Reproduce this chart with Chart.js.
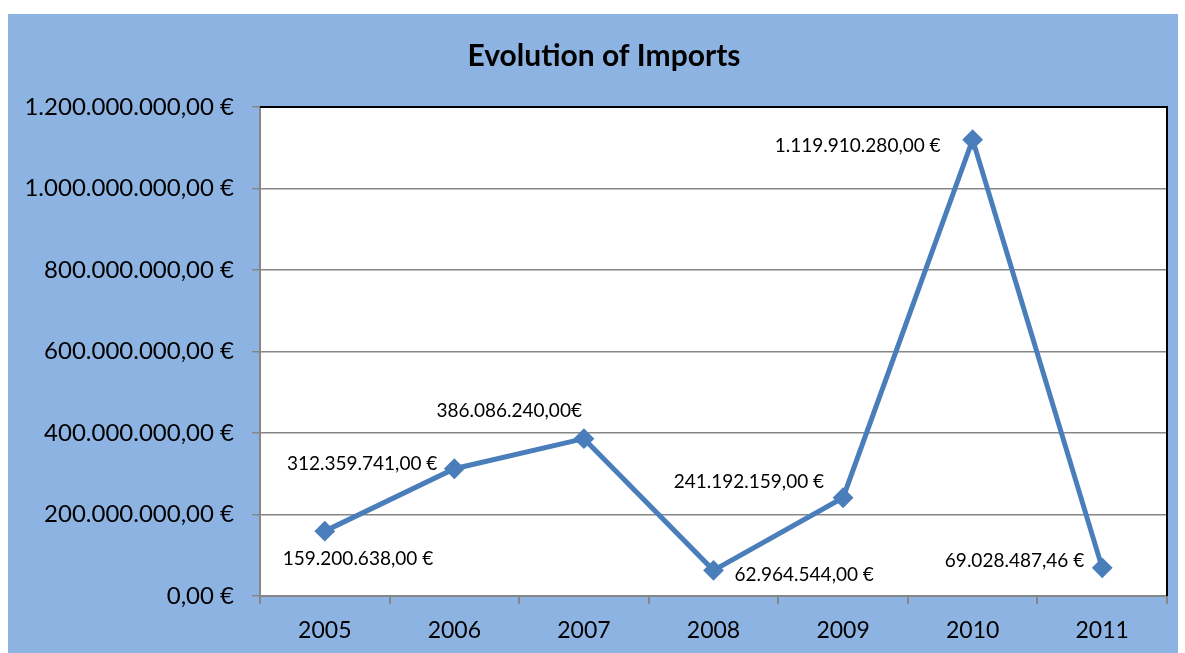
<!DOCTYPE html>
<html>
<head>
<meta charset="utf-8">
<script src="https://cdn.jsdelivr.net/npm/chart.js@4/dist/chart.umd.min.js"></script>
<style>
  body { margin: 0; background: #ffffff; }
  #wrap { position: absolute; left: 8px; top: 14px; width: 1170px; height: 639px; background: #8db3e2; }
</style>
</head>
<body>
<div id="wrap"><canvas id="importsChart"></canvas></div>
<script>
const years = ["2005", "2006", "2007", "2008", "2009", "2010", "2011"];
const imports = [159200638.00, 312359741.00, 386086240.00, 62964544.00, 241192159.00, 1119910280.00, 69028487.46];
const valueLabels = [
  "159.200.638,00 €",
  "312.359.741,00 €",
  "386.086.240,00€",
  "62.964.544,00 €",
  "241.192.159,00 €",
  "1.119.910.280,00 €",
  "69.028.487,46 €"
];
const yTickLabels = [
  "0,00 €",
  "200.000.000,00 €",
  "400.000.000,00 €",
  "600.000.000,00 €",
  "800.000.000,00 €",
  "1.000.000.000,00 €",
  "1.200.000.000,00 €"
];
const chartTitle = "Evolution of Imports";

// where each value label sits relative to its marker
const labelPlace = [
  { align: "left", dx: -42, dy: 28 },
  { align: "right", dx: -17, dy: -5 },
  { align: "right", dx: -2, dy: -28 },
  { align: "left", dx: 21, dy: 5 },
  { align: "right", dx: -19, dy: -16 },
  { align: "right", dx: -32, dy: 6 },
  { align: "right", dx: -18, dy: -7 }
];

const FONT = "Lato, 'Open Sans', sans-serif";
const AXIS_GREY = "#868686";

// white plot area, black top/right edge, title
const frame = {
  id: "frame",
  beforeDraw(c) {
    const a = c.chartArea;
    const ctx = c.ctx;
    ctx.save();
    ctx.fillStyle = "#ffffff";
    ctx.fillRect(a.left, a.top, a.right - a.left, a.bottom - a.top);
    ctx.font = "bold 30px " + FONT;
    ctx.fillStyle = "#000000";
    ctx.textAlign = "center";
    ctx.textBaseline = "middle";
    ctx.fillText(chartTitle, 596, 42);
    ctx.restore();
  },
  beforeDatasetsDraw(c) {
    const a = c.chartArea;
    const ctx = c.ctx;
    ctx.save();
    ctx.strokeStyle = "#000000";
    ctx.lineWidth = 2;
    ctx.beginPath();
    ctx.moveTo(a.left, a.top);
    ctx.lineTo(a.right, a.top);
    ctx.lineTo(a.right, a.bottom);
    ctx.stroke();
    ctx.restore();
  }
};

const valueText = {
  id: "valueText",
  afterDatasetsDraw(c) {
    const ctx = c.ctx;
    const pts = c.getDatasetMeta(0).data;
    ctx.save();
    ctx.font = "19px " + FONT;
    ctx.fillStyle = "#000000";
    ctx.textBaseline = "middle";
    pts.forEach((p, i) => {
      const pl = labelPlace[i];
      ctx.textAlign = pl.align;
      ctx.fillText(valueLabels[i], p.x + pl.dx, p.y + pl.dy);
    });
    ctx.restore();
  }
};

new Chart(document.getElementById("importsChart"), {
  type: "line",
  data: {
    labels: years,
    datasets: [
      {
        data: imports,
        borderColor: "#4a7ebb",
        backgroundColor: "#4a7ebb",
        borderWidth: 5,
        pointStyle: "rectRot",
        pointRadius: 9,
        pointBorderWidth: 2,
        tension: 0
      }
    ]
  },
  options: {
    responsive: true,
    maintainAspectRatio: false,
    animation: false,
    layout: { padding: { left: 0, right: 6, top: 93, bottom: 0 } },
    plugins: {
      legend: { display: false },
      tooltip: { enabled: false },
      title: { display: false }
    },
    scales: {
      x: {
        offset: true,
        grid: { offset: true, drawOnChartArea: false, drawTicks: true, tickLength: 8, color: AXIS_GREY, lineWidth: 2 },
        border: { color: AXIS_GREY, width: 2 },
        ticks: { color: "#000000", font: { family: FONT, size: 23 }, padding: 13 },
        afterFit(s) { s.height = 57; }
      },
      y: {
        min: 0,
        max: 1200000000,
        grid: { color: AXIS_GREY, lineWidth: 1.5, drawTicks: true, tickLength: 8 },
        border: { color: AXIS_GREY, width: 2 },
        ticks: {
          stepSize: 200000000,
          color: "#000000",
          font: { family: FONT, size: 24 },
          padding: 18,
          callback: (v, i) => yTickLabels[i]
        },
        afterFit(s) { s.width = 252; }
      }
    }
  },
  plugins: [frame, valueText]
});
</script>
</body>
</html>
